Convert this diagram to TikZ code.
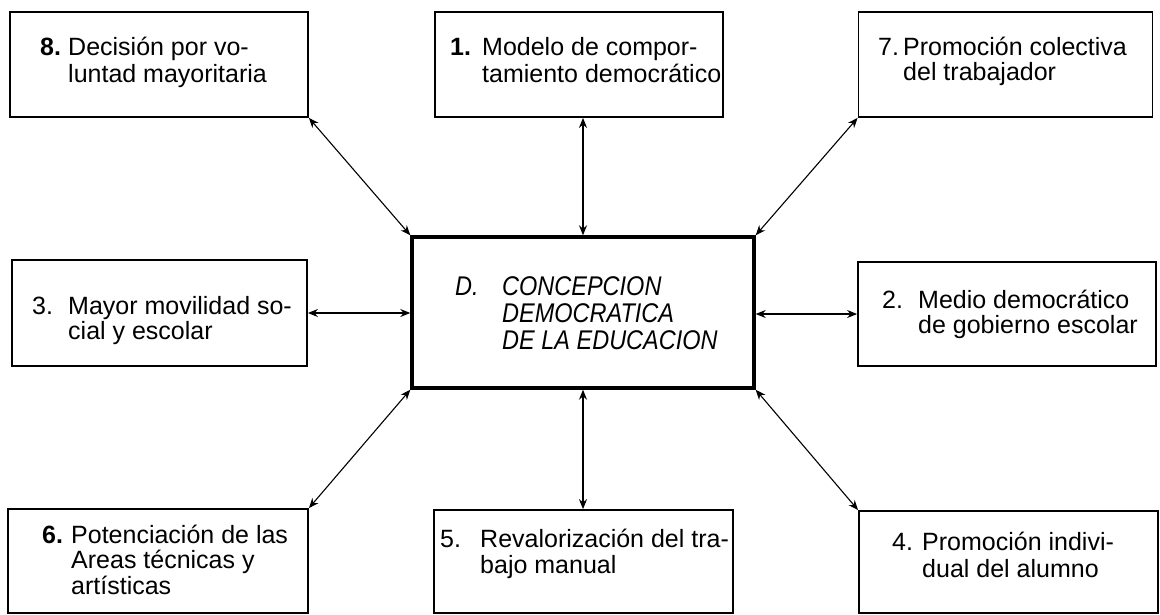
\documentclass[tikz,border=0pt]{standalone}
\usepackage{fontspec}
\usepackage{graphicx}
\setmainfont{Liberation Sans}
\usetikzlibrary{arrows.meta}
\tikzset{
  box/.style={draw, line width=1.8pt, inner sep=0pt, rectangle},
  mainbox/.style={draw, line width=3.4pt, inner sep=0pt, rectangle},
  lbl/.style={anchor=base west, inner sep=0pt, font=\fontsize{25}{#1}\selectfont},
  lbl/.default=26,
  num/.style={anchor=base west, inner sep=0pt, font=\fontsize{25}{26}\selectfont},
  ctext/.style={anchor=base west, inner sep=0pt, font=\fontsize{23.5}{23.5}\selectfont\itshape},
  conn/.style={{Stealth[length=10pt,width=8pt]}-{Stealth[length=10pt,width=8pt]}, line width=1.1pt}
}
\newcommand{\tl}[1]{\begin{tabular}[t]{@{}l@{}}#1\end{tabular}}
\newcommand{\tall}[1]{\scalebox{1}[1.15]{#1}}
\begin{document}
\begin{tikzpicture}[x=1pt,y=-1pt]
\useasboundingbox (0,0) rectangle (1160,614);
% boxes
\node[box, minimum width=298pt, minimum height=105pt] (b8) at (159,64.5) {};
\node[box, minimum width=288pt, minimum height=105pt] (b1) at (579,64.5) {};
\node[box, minimum width=294pt, minimum height=105pt] (b7) at (1005.5,64.5) {};
\node[box, minimum width=295pt, minimum height=106pt] (b3) at (159.5,313) {};
\node[mainbox, minimum width=342pt, minimum height=151pt] (c) at (583,312.5) {};
\node[box, minimum width=298pt, minimum height=104pt] (b2) at (1007,314) {};
\node[box, minimum width=300pt, minimum height=104pt] (b6) at (158,561) {};
\node[box, minimum width=299pt, minimum height=103pt] (b5) at (583.5,561.5) {};
\node[box, minimum width=299pt, minimum height=102pt] (b4) at (1008.5,562) {};
% texts
\node[num] (n8) at (40,55) {\bfseries 8.};
\node[lbl=27] (t8) at (68,55) {\tl{Decisión por vo-\\luntad mayoritaria}};
\node[num] (n1) at (450,55) {\bfseries 1.};
\node[lbl=27] (t1) at (482,55) {\tl{Modelo de compor-\\tamiento democrático}};
\node[num] (n7) at (878,55) {7.};
\node[lbl=25] (t7) at (903,55) {\tl{Promoción colectiva\\del trabajador}};
\node[num] (n3) at (32,314) {3.};
\node[lbl=24] (t3) at (68,314) {\tl{Mayor movilidad so-\\cial y escolar}};
\node[num] (n2) at (882,308) {2.};
\node[lbl=25] (t2) at (918,308) {\tl{Medio democrático\\de gobierno escolar}};
\node[num] (n6) at (42,543) {\bfseries 6.};
\node[lbl=25] (t6) at (71,543) {\tl{Potenciación de las\\Areas técnicas y\\artísticas}};
\node[num] (n5) at (440,547) {5.};
\node[lbl=26] (t5) at (480,547) {\tl{Revalorización del tra-\\bajo manual}};
\node[num] (n4) at (892,550) {4.};
\node[lbl=27] (t4) at (922,550) {\tl{Promoción indivi-\\dual del alumno}};
\node[ctext] (cd) at (455,295) {\tall{D.}};
\node[ctext] (ct) at (502,295) {\tall{\tl{CONCEPCION\\DEMOCRATICA\\DE LA EDUCACION}}};
% connectors
\draw[conn] (b8.south east) -- (c.north west);
\draw[conn] (b7.south west) -- (c.north east);
\draw[conn] (c.south west) -- (b6.north east);
\draw[conn] (c.south east) -- (b4.north west);
\draw[conn] (c.north) -- (c.north |- b1.south);
\draw[conn] (c.south) -- (c.south |- b5.north);
\draw[conn] (b3.east) -- (c.west |- b3.east);
\draw[conn] (b2.west) -- (c.east |- b2.west);
\end{tikzpicture}
\end{document}
